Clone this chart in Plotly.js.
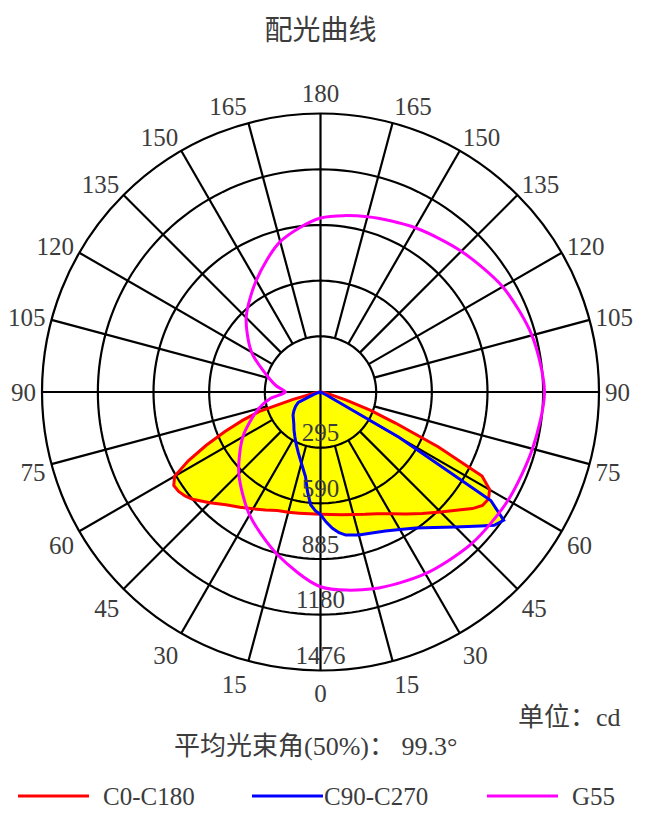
<!DOCTYPE html>
<html><head><meta charset="utf-8">
<script src="https://cdn.plot.ly/plotly-3.0.1.min.js"></script>
<style>html,body{margin:0;padding:0;background:#fff}</style>
</head><body><div id="chart" style="width:652px;height:818px"></div>
<script>
// ---- data (nadir angle in degrees, intensity in cd) ----
const c0Angles   = [0,5,10,15,20,25,30,35,40,45,50,52.5,55,57.5,60,62.5,65,67.5,70,72.5,75,80,85,90];
const c0Values   = [648,652,660,672,690,712,745,790,840,900,970,1015,1048,1056,1035,965,690,430,280,140,60,20,8,0];
const c180Angles = [0,5,10,15,20,25,30,35,40,45,50,52.5,55,57.5,60,62.5,65,67.5,70,72.5,75,80,85,90];
const c180Values = [648,648,652,660,668,690,715,745,780,830,885,905,918,922,893,790,668,550,440,335,150,30,10,0];
const c90Angles  = [0,2.5,5,7.5,10,15,20,25,30,35,40,45,50,52.5,55,57.5,60,62.5,65,70,80,90];
const c90Values  = [650,690,725,752,770,785,795,813,842,880,937,1012,1105,1160,1185,1070,480,40,15,8,3,0];
const c270Angles = [0,2.5,5,7.5,10,15,20,25,30,35,40,45,50,55,60,65,70,75,80,90];
const c270Values = [650,630,600,530,457,391,343,305,272,245,220,203,190,172,153,130,40,15,6,0];
// G55 cone: C angle (deg) and intensity (cd)
const g55Angles  = [0,15,30,45,60,75,90,105,120,135,150,165,180,195,210,225,240,255,262.5,270,277.5,285,300,315,330,345,360];
const g55Values  = [1032,1080,1112,1135,1148,1163,1187,1160,1115,1055,1005,962,922,825,682,557,422,282,234,186,270,340,475,612,752,890,1032];

const seriesNames  = ['C0-C180','C90-C270','G55'];
const seriesColors = ['#ff0000','#0000ff','#ff00ff'];
const fillColor = '#ffff00';

const radialTicks = [295,590,885,1180,1476];
const radialTickText = ['295','590','885','1180','1476'];
const angleTicks = [];
for (let a = 0; a < 360; a += 15) angleTicks.push(a);
const angleLabels = angleTicks.map(a => String(a <= 180 ? a : 360 - a));
const rMax = 1476;

// ---- build closed curves: right half theta = angle, left half theta = 360 - angle ----
function plane(rightA, rightV, leftA, leftV) {
  const t = [], r = [];
  for (let i = rightA.length - 1; i >= 0; i--) { t.push(rightA[i]); r.push(rightV[i]); }
  for (let i = 0; i < leftA.length; i++) { t.push(360 - leftA[i]); r.push(leftV[i]); }
  return {t, r};
}
const pC0 = plane(c0Angles, c0Values, c180Angles, c180Values);
const pC90 = plane(c90Angles, c90Values, c270Angles, c270Values);

// ---- grid drawn as traces so it sits above the yellow fill ----
const gridR = [], gridT = [];
radialTicks.slice(0, -1).forEach(v => {
  for (let t = 0; t <= 360; t += 2) { gridR.push(v); gridT.push(t); }
  gridR.push(null); gridT.push(null);
});
angleTicks.forEach(a => {
  gridR.push(a % 90 === 0 ? 0 : radialTicks[0], rMax, null);
  gridT.push(a, a, null);
});

const serifFont = 'Liberation Serif, DejaVu Serif, serif';
const mixFont = 'Liberation Serif, Noto Sans CJK SC, serif';
const textColor = '#3c3c3c';

const traces = [
  {type:'scatterpolar', r:pC0.r, theta:pC0.t, mode:'lines', fill:'toself', fillcolor:fillColor,
   line:{width:0, color:fillColor}, showlegend:false, hoverinfo:'skip'},
  {type:'scatterpolar', r:pC90.r, theta:pC90.t, mode:'lines', fill:'toself', fillcolor:fillColor,
   line:{width:0, color:fillColor}, showlegend:false, hoverinfo:'skip'},
  {type:'scatterpolar', r:gridR, theta:gridT, mode:'lines', connectgaps:false,
   line:{width:2.2, color:'#000'}, showlegend:false, hoverinfo:'skip'},
  {type:'scatterpolar', r:pC0.r, theta:pC0.t, mode:'lines', name:seriesNames[0],
   line:{width:3, color:seriesColors[0]}, showlegend:false},
  {type:'scatterpolar', r:pC90.r, theta:pC90.t, mode:'lines', name:seriesNames[1],
   line:{width:3, color:seriesColors[1]}, showlegend:false},
  {type:'scatterpolar', r:g55Values, theta:g55Angles, mode:'lines', name:seriesNames[2],
   line:{width:3, color:seriesColors[2], shape:'spline', smoothing:0.8}, showlegend:false},
  {type:'scatterpolar', r:radialTicks, theta:radialTicks.map(() => 0), mode:'text',
   text:radialTickText, textposition:'top center', cliponaxis:false,
   textfont:{family:serifFont, size:25, color:textColor}, showlegend:false, hoverinfo:'skip'}
];

const W = 652, H = 818;
const cx = 320.5, cy = 392, R = 278.5;

// manual legend (long swatches as in the reference)
const legendStarts = [18, 252, 487];
const legendY = 1 - 796 / H;
const shapes = seriesNames.map((n, i) => ({
  type:'line', xref:'paper', yref:'paper',
  x0:legendStarts[i] / W, x1:(legendStarts[i] + 71) / W, y0:legendY, y1:legendY,
  line:{color:seriesColors[i], width:3}
}));
const annotations = seriesNames.map((n, i) => ({
  text:n, xref:'paper', yref:'paper', x:(legendStarts[i] + (i === 1 ? 70 : 83)) / W, y:legendY,
  xanchor:'left', yanchor:'middle', showarrow:false,
  font:{family:serifFont, size:25, color:textColor}
}));
annotations.push({
  text:'单位：cd', xref:'paper', yref:'paper', x:623 / W, y:1 - 717 / H,
  xanchor:'right', yanchor:'middle', showarrow:false,
  font:{family:mixFont, size:26, color:textColor}
});
annotations.push({
  text:'平均光束角(50%)： 99.3°', xref:'paper', yref:'paper', x:315 / W, y:1 - 746 / H,
  xanchor:'center', yanchor:'middle', showarrow:false,
  font:{family:mixFont, size:26, color:textColor}
});

const layout = {
  width:W, height:H, autosize:false,
  margin:{l:0, r:0, t:0, b:0},
  paper_bgcolor:'#fff',
  showlegend:false,
  title:{text:'配光曲线', x:cx / W, xanchor:'center', y:1 - 30 / H, yanchor:'middle',
         font:{family:mixFont, size:28, color:textColor}},
  polar:{
    domain:{x:[(cx - R) / W, (cx + R) / W], y:[1 - (cy + R) / H, 1 - (cy - R) / H]},
    bgcolor:'#fff',
    radialaxis:{range:[0, rMax], showgrid:false, showline:false, showticklabels:false, ticks:''},
    angularaxis:{rotation:270, direction:'counterclockwise', tickmode:'array',
      tickvals:angleTicks, ticktext:angleLabels, showgrid:false, showline:true,
      linecolor:'#000', linewidth:2.2, ticks:'',
      tickfont:{family:serifFont, size:25, color:textColor}}
  },
  shapes:shapes,
  annotations:annotations
};

Plotly.newPlot('chart', traces, layout, {staticPlot:true, displayModeBar:false});
</script>
</body></html>
